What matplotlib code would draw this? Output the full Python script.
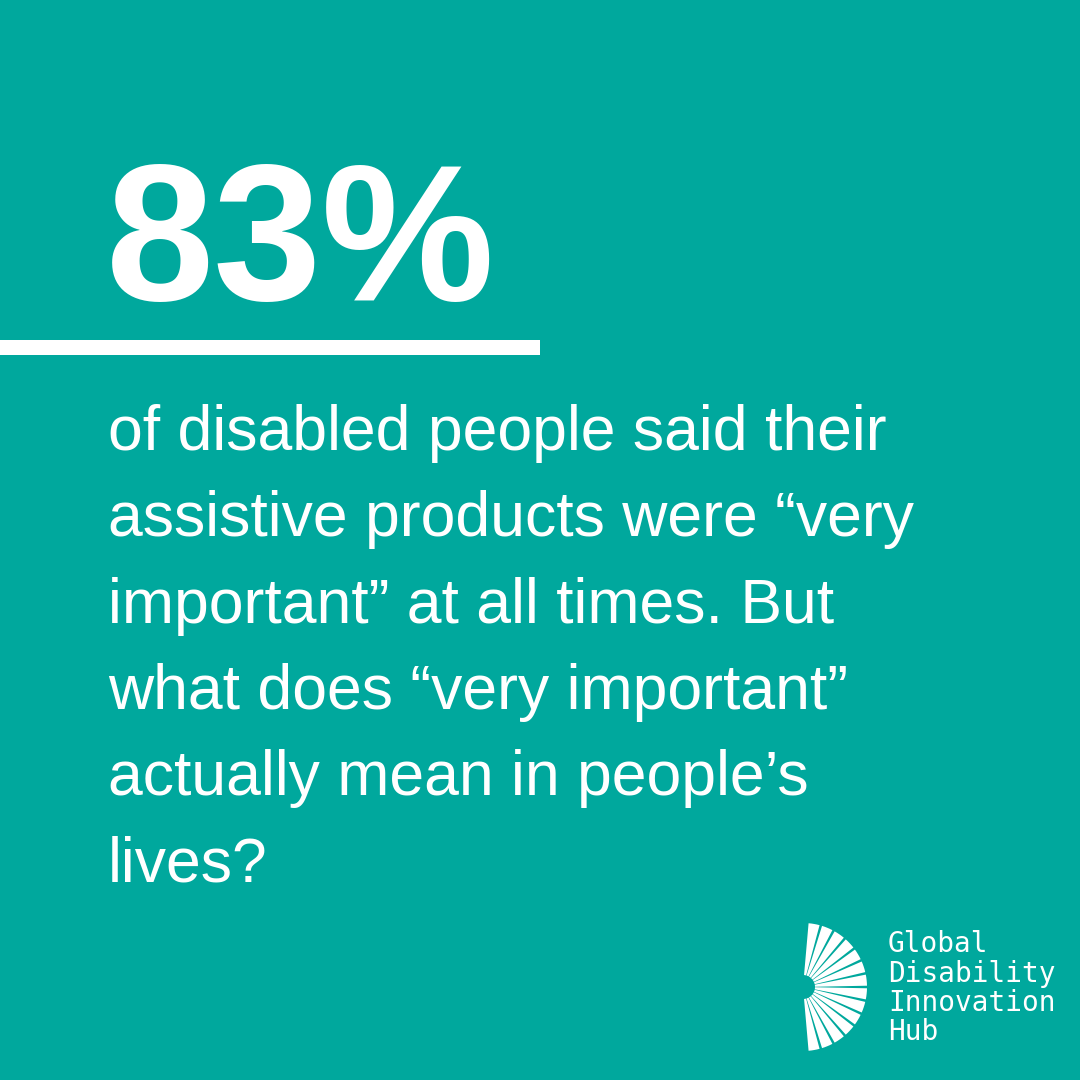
import matplotlib
matplotlib.use("Agg")
import matplotlib.pyplot as plt
from matplotlib.patches import Wedge, Rectangle
import numpy as np

BG = "#00A89D"
headline = "83%"
body_lines = ["of disabled people said their",
              "assistive products were \u201cvery",
              "important\u201d at all times. But",
              "what does \u201cvery important\u201d",
              "actually mean in people\u2019s",
              "lives?"]
logo_lines = ["Global", "Disability", "Innovation", "Hub"]

W = H = 1080
fig = plt.figure(figsize=(10.8, 10.8), dpi=100)
fig.patch.set_facecolor(BG)
ax = fig.add_axes([0, 0, 1, 1])
ax.set_xlim(0, W); ax.set_ylim(H, 0); ax.axis("off")
ax.set_facecolor(BG)

ax.text(106, 300, headline, fontsize=140, fontweight="bold", color="white",
        family="Liberation Sans", va="baseline", ha="left")
ax.add_patch(Rectangle((0, 340), 540, 15, color="white", lw=0))

y0, dy = 450, 86.3
for i, s in enumerate(body_lines):
    ax.text(108, y0 + i * dy, s, fontsize=45, color="white",
            family="Liberation Sans", va="baseline", ha="left")

# logo fan
cx, cy = 803, 987
n = 14
angs = np.linspace(-80, 80, n)
for a in angs:
    ax.add_patch(Wedge((cx, cy), 64, a - 5.0, a + 5.0, width=52, color="white", lw=0))

for i, s in enumerate(logo_lines):
    ax.text(888, 952 + i * 29.5, s, fontsize=20, color="white",
            family="DejaVu Sans Mono", va="baseline", ha="left")

fig.savefig("out.png", dpi=100, facecolor=BG)
